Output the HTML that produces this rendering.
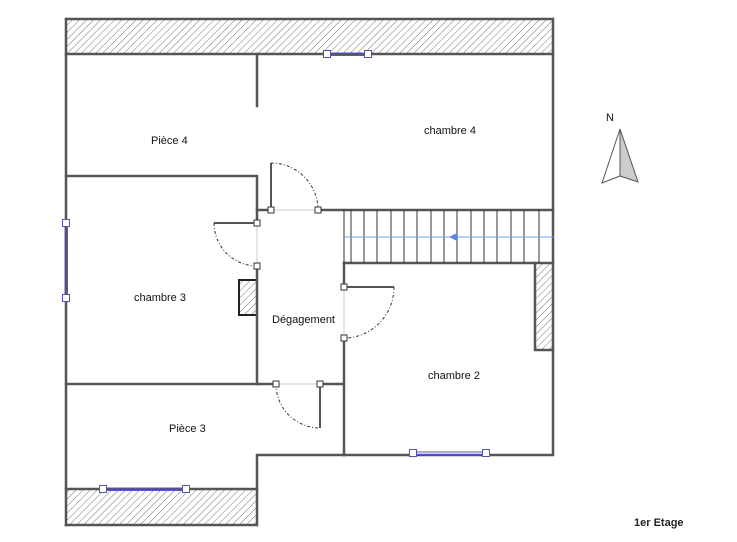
<!DOCTYPE html>
<html><head><meta charset="utf-8"><style>
html,body{margin:0;padding:0;background:#fff;}
svg{display:block;}
text{font-family:"Liberation Sans",sans-serif;font-size:11px;fill:#111;}
</style></head><body>
<svg width="737" height="542" viewBox="0 0 737 542" xmlns="http://www.w3.org/2000/svg">
<defs>
<pattern id="h" width="5" height="5" patternUnits="userSpaceOnUse" patternTransform="rotate(45)">
<rect width="5" height="5" fill="#fff"/>
<line x1="0" y1="0" x2="0" y2="5" stroke="#777" stroke-width="1"/>
</pattern>
</defs>
<rect x="66" y="19" width="487" height="35" fill="url(#h)"/>
<rect x="66" y="489" width="191" height="36" fill="url(#h)"/>
<rect x="535" y="263" width="18" height="87" fill="url(#h)"/>
<rect x="239" y="280" width="18" height="35" fill="url(#h)" stroke="#222" stroke-width="2"/>
<g stroke="#555" stroke-width="2.5" fill="none" stroke-linecap="square">
<polyline points="66,19 553,19 553,455 344,455"/>
<line x1="66" y1="19" x2="66" y2="525"/>
<line x1="66" y1="54" x2="553" y2="54"/>
<polyline points="344,455 257,455 257,525 66,525"/>
<line x1="66" y1="489" x2="257" y2="489"/>
<line x1="257" y1="54" x2="257" y2="106"/>
<polyline points="66,176 257,176 257,223"/>
<line x1="257" y1="266" x2="257" y2="384"/>
<line x1="257" y1="210" x2="271" y2="210"/>
<line x1="318" y1="210" x2="553" y2="210"/>
<line x1="344" y1="263" x2="553" y2="263"/>
<polyline points="535,263 535,350 553,350"/>
<line x1="344" y1="263" x2="344" y2="287"/>
<line x1="344" y1="338" x2="344" y2="455"/>
<line x1="66" y1="384" x2="276" y2="384"/>
<line x1="320" y1="384" x2="344" y2="384"/>
</g>
<g stroke="#333" stroke-width="1">
<line x1="344" y1="210" x2="344" y2="263"/><line x1="351" y1="210" x2="351" y2="263"/><line x1="364" y1="210" x2="364" y2="263"/><line x1="377" y1="210" x2="377" y2="263"/><line x1="391" y1="210" x2="391" y2="263"/><line x1="404" y1="210" x2="404" y2="263"/><line x1="417" y1="210" x2="417" y2="263"/><line x1="431" y1="210" x2="431" y2="263"/><line x1="444" y1="210" x2="444" y2="263"/><line x1="457" y1="210" x2="457" y2="263"/><line x1="471" y1="210" x2="471" y2="263"/><line x1="484" y1="210" x2="484" y2="263"/><line x1="497" y1="210" x2="497" y2="263"/><line x1="511" y1="210" x2="511" y2="263"/><line x1="524" y1="210" x2="524" y2="263"/><line x1="539" y1="210" x2="539" y2="263"/>
</g>
<line x1="344" y1="237" x2="553" y2="237" stroke="#7a9ee8" stroke-width="1"/>
<polygon points="449,237 457,233 457,241" fill="#5b86e0"/>
<g stroke="#ccc" stroke-width="1">
<line x1="271" y1="210" x2="318" y2="210"/>
<line x1="257" y1="223" x2="257" y2="266"/>
<line x1="344" y1="287" x2="344" y2="338"/>
<line x1="276" y1="384" x2="320" y2="384"/>
</g>
<g stroke="#555" stroke-width="2" fill="none">
<line x1="271" y1="163" x2="271" y2="210"/>
<line x1="214" y1="223" x2="257" y2="223"/>
<line x1="344" y1="287" x2="394" y2="287"/>
<line x1="320" y1="384" x2="320" y2="428"/>
</g>
<g stroke="#333" stroke-width="1" fill="none" stroke-dasharray="3,2,1,2">
<path d="M271,163 A47,47 0 0 1 318,210"/>
<path d="M214,223 A43,43 0 0 0 257,266"/>
<path d="M394,287 A50,51 0 0 1 344,338"/>
<path d="M276,384 A44,44 0 0 0 320,428"/>
</g>
<g stroke="#5555cc" stroke-width="1" fill="none">
<line x1="327" y1="53" x2="368" y2="53"/><line x1="327" y1="55.5" x2="368" y2="55.5"/>
<line x1="65" y1="223" x2="65" y2="298"/><line x1="67.5" y1="223" x2="67.5" y2="298"/>
<line x1="413" y1="452" x2="486" y2="452"/><line x1="413" y1="454.5" x2="486" y2="454.5"/>
<line x1="103" y1="488" x2="186" y2="488"/><line x1="103" y1="490.5" x2="186" y2="490.5"/>
</g>
<g fill="#fff" stroke="#5555aa" stroke-width="1">
<rect x="323.5" y="50.5" width="7" height="7"/><rect x="364.5" y="50.5" width="7" height="7"/>
<rect x="62.5" y="219.5" width="7" height="7"/><rect x="62.5" y="294.5" width="7" height="7"/>
<rect x="409.5" y="449.5" width="7" height="7"/><rect x="482.5" y="449.5" width="7" height="7"/>
<rect x="99.5" y="485.5" width="7" height="7"/><rect x="182.5" y="485.5" width="7" height="7"/>
</g>
<g fill="#fff" stroke="#333" stroke-width="1">
<rect x="268" y="207" width="6" height="6"/><rect x="315" y="207" width="6" height="6"/>
<rect x="254" y="220" width="6" height="6"/><rect x="254" y="263" width="6" height="6"/>
<rect x="341" y="284" width="6" height="6"/><rect x="341" y="335" width="6" height="6"/>
<rect x="273" y="381" width="6" height="6"/><rect x="317" y="381" width="6" height="6"/>
</g>
<text x="151" y="144">Pièce 4</text>
<text x="424" y="134">chambre 4</text>
<text x="134" y="301">chambre 3</text>
<text x="272" y="323">Dégagement</text>
<text x="428" y="379">chambre 2</text>
<text x="169" y="432">Pièce 3</text>
<text x="606" y="121" style="font-size:11px">N</text>
<polygon points="620,129 602,183 620,176" fill="#fff" stroke="#555" stroke-width="1"/>
<polygon points="620,129 638,182 620,176" fill="#ccc" stroke="#555" stroke-width="1"/>
<text x="634" y="526" style="font-size:11px;font-weight:bold;fill:#222">1er Etage</text>
</svg>
</body></html>
